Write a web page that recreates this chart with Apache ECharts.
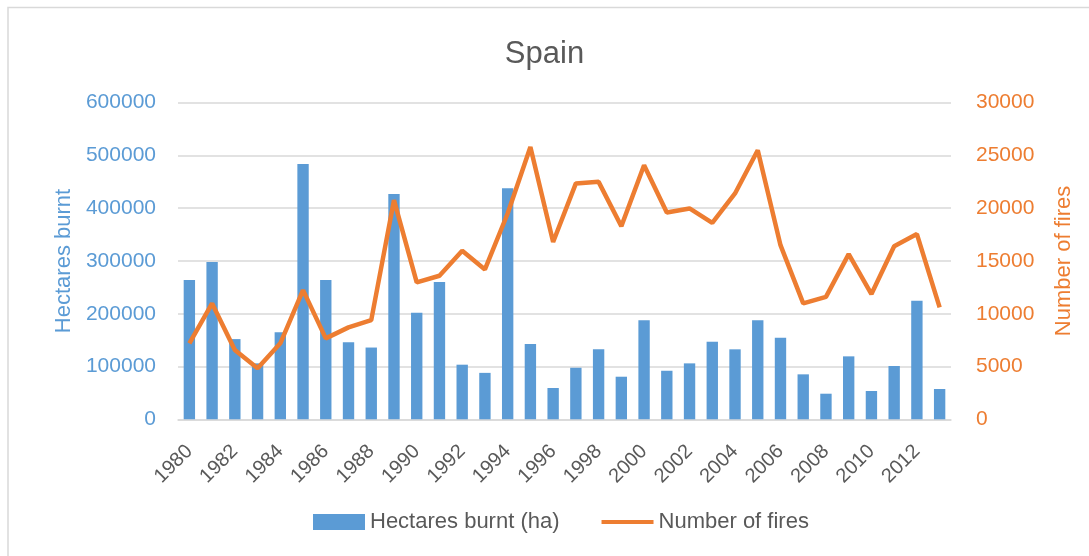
<!DOCTYPE html>
<html>
<head>
<meta charset="utf-8">
<script src="https://cdn.jsdelivr.net/npm/echarts@6/dist/echarts.min.js"></script>
<style>html,body{margin:0;padding:0;background:#fff}#c{width:1089px;height:556px}</style>
</head>
<body>
<div id="c"></div>
<script>
const years = ['1980','1981','1982','1983','1984','1985','1986','1987','1988','1989','1990','1991','1992','1993','1994','1995','1996','1997','1998','1999','2000','2001','2002','2003','2004','2005','2006','2007','2008','2009','2010','2011','2012','2013'];
const hectaresBurnt = [264000,298000,152000,106000,165000,484000,264000,146000,136000,427000,202000,260000,103500,88000,438000,142600,59300,97700,132600,80700,187500,92000,106000,147000,132600,187500,154500,85200,48500,119300,53600,101000,224600,57400];
const numberOfFires = [7200,10980,6560,4830,7200,12240,7670,8710,9400,20770,12970,13600,15970,14200,19500,25800,16800,22350,22500,18300,24080,19600,19980,18620,21400,25500,16500,10980,11600,15650,11870,16400,17550,10600];

const FONT = 'Liberation Sans';
const plain = v => String(v);
const chart = echarts.init(document.getElementById('c'));
chart.setOption({
  animation: false,
  textStyle: {fontFamily: FONT},
  graphic: [{type:'rect', shape:{x:8, y:7.5, width:1200, height:700}, style:{fill:'none', stroke:'#d9d9d9', lineWidth:1.5}, silent:true}],
  title: {text:'Spain', left:'center', top:34, textStyle:{fontFamily:FONT, fontSize:31, fontWeight:'normal', color:'#595959'}},
  legend: {
    bottom: 18, left: 308, itemGap: 42, itemWidth: 52, itemHeight: 16,
    textStyle: {fontFamily:FONT, fontSize:22, color:'#595959'},
    data: [
      {name:'Hectares burnt (ha)', icon:'rect'},
      {name:'Number of fires', icon:'path://M0,0 M52,16 M0,6 L52,6 L52,10 L0,10 Z', itemStyle:{color:'#ed7d31'}}
    ]
  },
  grid: {left:178, right:138, top:102.7, bottom:136.7, containLabel:false},
  xAxis: {
    type:'category', data: years,
    axisTick:{show:false},
    axisLine:{lineStyle:{color:'#d9d9d9', width:1.5}},
    axisLabel:{interval:1, rotate:45, fontSize:20, color:'#595959', margin:29, fontFamily:FONT}
  },
  yAxis: [{
    type:'value', min:0, max:600000, interval:100000,
    name:'Hectares burnt', nameLocation:'middle', nameRotate:90, nameGap:102,
    nameTextStyle:{fontSize:22, color:'#5b9bd5', fontFamily:FONT},
    axisLabel:{fontSize:21, color:'#5b9bd5', margin:22, fontFamily:FONT, formatter: plain},
    splitLine:{lineStyle:{color:'#d9d9d9', width:1.5}},
    axisLine:{show:false}, axisTick:{show:false}
  },{
    type:'value', min:0, max:30000, interval:5000, position:'right',
    name:'Number of fires', nameLocation:'middle', nameRotate:90, nameGap:102,
    nameTextStyle:{fontSize:22, color:'#ed7d31', fontFamily:FONT},
    axisLabel:{fontSize:21, color:'#ed7d31', margin:25, fontFamily:FONT, formatter: plain},
    splitLine:{show:false}, axisLine:{show:false}, axisTick:{show:false}
  }],
  series: [{
    name:'Hectares burnt (ha)', type:'bar', data: hectaresBurnt, yAxisIndex:0,
    barCategoryGap:'50%', itemStyle:{color:'#5b9bd5'}
  },{
    name:'Number of fires', type:'line', data: numberOfFires, yAxisIndex:1,
    symbol:'none', lineStyle:{color:'#ed7d31', width:4.5}, itemStyle:{color:'#ed7d31'}
  }]
});
</script>
</body>
</html>
